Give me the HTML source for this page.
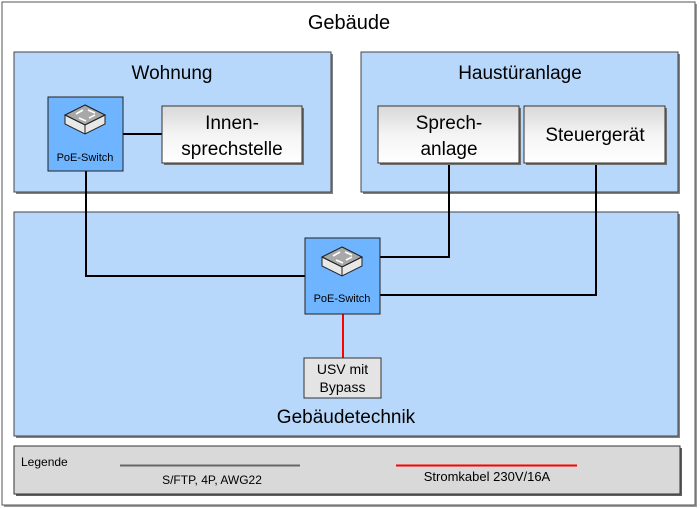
<!DOCTYPE html>
<html><head><meta charset="utf-8"><style>
html,body{margin:0;padding:0;background:#fff;}
svg{display:block;}
text{font-family:"Liberation Sans",sans-serif;}
</style></head><body>
<svg width="700" height="508" viewBox="0 0 700 508" xmlns="http://www.w3.org/2000/svg">
<defs>
<linearGradient id="g" x1="0" y1="0" x2="0" y2="1"><stop offset="0" stop-color="#d8d8d8"/><stop offset="0.5" stop-color="#f4f4f4"/><stop offset="1" stop-color="#ffffff"/></linearGradient>
<g id="sw">
<polygon points="0,-12 20,-2 20,7 0,17 -20,7 -20,-2" fill="#e8e8e8" stroke="#222" stroke-width="1"/>
<polygon points="0,-12 20,-2 0,8 -20,-2" fill="#a8a8a8" stroke="#222" stroke-width="1"/>
<polyline points="-20,-2 0,8 20,-2" fill="none" stroke="#222"/>
<line x1="0" y1="8" x2="0" y2="17" stroke="#222"/>
<path d="M-9,-3 l7,-4 M3,-7 l7,3 M-6,1 l7,3 M4,1 l6,-3" stroke="#fff" stroke-width="1.6"/>
</g>
</defs>
<rect x="4" y="4" width="693" height="503" fill="#9a9a9a"/>
<rect x="2" y="2" width="693" height="503" fill="#fff" stroke="#555" stroke-width="1"/>
<text x="349" y="29" font-size="20" text-anchor="middle">Gebäude</text>
<rect x="16" y="54" width="317" height="140" fill="#808080"/>
<rect x="14" y="52" width="317" height="140" fill="#b8d8fb" stroke="#444"/>
<text x="172" y="79" font-size="19" text-anchor="middle">Wohnung</text>
<rect x="363" y="54" width="317" height="140" fill="#808080"/>
<rect x="361" y="52" width="317" height="140" fill="#b8d8fb" stroke="#444"/>
<text x="520" y="79" font-size="19" text-anchor="middle">Haustüranlage</text>
<rect x="16" y="214" width="664" height="224" fill="#808080"/>
<rect x="14" y="212" width="664" height="224" fill="#b8d8fb" stroke="#444"/>
<text x="346" y="423" font-size="19" text-anchor="middle">Gebäudetechnik</text>
<rect x="16" y="448" width="666" height="48" fill="#606060"/>
<rect x="14" y="446" width="666" height="48" fill="#d9d9d9" stroke="#333"/>
<text x="21" y="466" font-size="12">Legende</text>
<line x1="120" y1="465.5" x2="300" y2="465.5" stroke="#666" stroke-width="2"/>
<text x="212" y="484" font-size="12" text-anchor="middle">S/FTP, 4P, AWG22</text>
<line x1="396" y1="465.5" x2="577" y2="465.5" stroke="#f00" stroke-width="2"/>
<text x="487" y="481" font-size="13" text-anchor="middle">Stromkabel 230V/16A</text>
<g stroke="#000" stroke-width="2" fill="none">
<line x1="123" y1="134" x2="162" y2="134"/>
<polyline points="86,171 86,276 305,276"/>
<polyline points="449,163 449,257 380,257"/>
<polyline points="596,163 596,295 380,295"/>
</g>
<line x1="343" y1="314" x2="343" y2="358" stroke="#f00" stroke-width="2"/>
<rect x="48" y="97" width="75" height="74" fill="#6eb4ff" stroke="#222"/>
<use href="#sw" x="85" y="117"/>
<text x="85" y="161" font-size="11" text-anchor="middle">PoE-Switch</text>
<rect x="305" y="238" width="75" height="76" fill="#6eb4ff" stroke="#222"/>
<use href="#sw" x="342" y="259"/>
<text x="342" y="302" font-size="11" text-anchor="middle">PoE-Switch</text>
<rect x="164" y="108" width="140" height="57" fill="#707070"/>
<rect x="162" y="106" width="140" height="57" fill="url(#g)" stroke="#333"/>
<text x="232" y="129" font-size="19" text-anchor="middle">Innen-</text>
<text x="232" y="155" font-size="19" text-anchor="middle">sprechstelle</text>
<rect x="380" y="108" width="141" height="57" fill="#707070"/>
<rect x="378" y="106" width="141" height="57" fill="url(#g)" stroke="#333"/>
<text x="449" y="129" font-size="19" text-anchor="middle">Sprech-</text>
<text x="449" y="155" font-size="19" text-anchor="middle">anlage</text>
<rect x="526" y="108" width="141" height="57" fill="#707070"/>
<rect x="524" y="106" width="141" height="57" fill="url(#g)" stroke="#333"/>
<text x="595" y="141" font-size="19" text-anchor="middle">Steuergerät</text>
<rect x="304" y="358" width="77" height="40" fill="#e4e4e4" stroke="#333"/>
<text x="342.5" y="374" font-size="14" text-anchor="middle">USV mit</text>
<text x="342.5" y="392" font-size="14" text-anchor="middle">Bypass</text>
</svg>
</body></html>
